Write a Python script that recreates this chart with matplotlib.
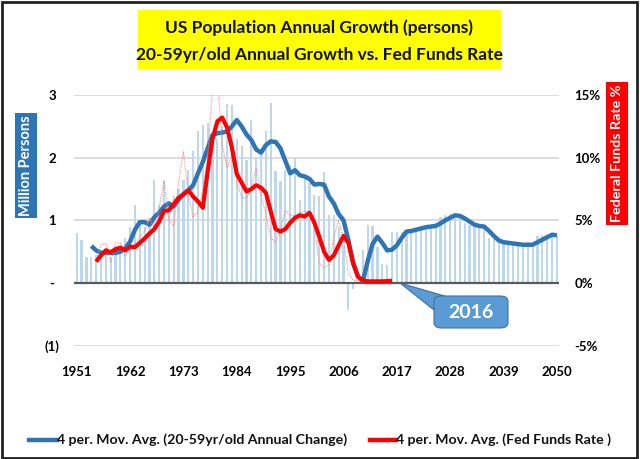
import matplotlib
matplotlib.use('Agg')
import matplotlib.pyplot as plt
import numpy as np
from matplotlib.patches import Rectangle, FancyBboxPatch, Polygon

# ---------------- data ----------------
years = list(range(1951, 2051))
pop_change = [
    0.80, 0.68, 0.41, 0.41, 0.45, 0.50, 0.55, 0.42, 0.50, 0.50,   # 1951-1960
    0.72, 0.90, 1.25, 0.95, 0.90, 1.00, 1.65, 1.25, 1.63, 1.30,   # 1961-1970
    1.38, 1.50, 1.65, 1.80, 2.10, 2.42, 2.52, 2.55, 2.35, 2.30,   # 1971-1980
    2.50, 2.86, 2.84, 2.30, 2.18, 1.96, 2.60, 2.00, 2.12, 2.42,   # 1981-1990
    2.87, 1.78, 1.62, 1.80, 1.88, 2.00, 1.33, 1.73, 1.60, 1.40,   # 1991-2000
    1.38, 1.77, 1.09, 1.09, 0.90, 0.60, -0.43, -0.10, 0.00, 0.53, # 2001-2010
    0.92, 0.91, 0.58, 0.31, 0.29, 0.82, 0.82, 0.82, 0.82, 0.84,   # 2011-2020
    0.86, 0.88, 0.90, 0.92, 0.94, 1.05, 1.08, 1.10, 1.10, 1.05,   # 2021-2030
    0.95, 0.92, 0.90, 0.90, 0.88, 0.72, 0.70, 0.66, 0.64, 0.63,   # 2031-2040
    0.62, 0.62, 0.61, 0.61, 0.62, 0.75, 0.76, 0.77, 0.77, 0.76,   # 2041-2050
]

pop_ma_years = list(range(1954, 2051))
pop_ma = [
    0.59, 0.52, 0.48, 0.48, 0.48, 0.48, 0.50,                     # 1954-1960
    0.55, 0.66, 0.85, 0.97, 0.97, 0.93, 1.05, 1.12, 1.22, 1.27,   # 1961-1970
    1.22, 1.33, 1.42, 1.48, 1.56, 1.75, 1.93, 2.15, 2.36, 2.39,   # 1971-1980
    2.40, 2.42, 2.50, 2.60, 2.50, 2.37, 2.28, 2.13, 2.08, 2.20,   # 1981-1990
    2.26, 2.25, 2.15, 1.95, 1.75, 1.80, 1.72, 1.70, 1.66, 1.57,   # 1991-2000
    1.58, 1.57, 1.38, 1.27, 1.10, 1.00, 0.69, 0.31, 0.10, 0.03,   # 2001-2010
    0.35, 0.62, 0.74, 0.64, 0.52, 0.53, 0.60, 0.72, 0.82, 0.83,   # 2011-2020
    0.85, 0.87, 0.89, 0.90, 0.91, 0.95, 1.00, 1.04, 1.08, 1.07,   # 2021-2030
    1.03, 0.98, 0.93, 0.91, 0.90, 0.83, 0.75, 0.68, 0.65, 0.64,   # 2031-2040
    0.63, 0.62, 0.61, 0.61, 0.61, 0.65, 0.69, 0.73, 0.77, 0.76,   # 2041-2050
]

ffr_years = list(range(1955, 2017))
ffr = [
    1.8, 3.0, 3.2, 1.6, 3.2, 3.2,                                  # 1955-1960
    2.1, 2.8, 3.2, 3.6, 4.2, 5.2, 4.3, 6.0, 8.2, 5.0,              # 1961-1970
    4.5, 8.0, 10.5, 7.0, 5.3, 5.7, 7.5, 10.0, 15.5, 16.5,          # 1971-1980
    11.0, 9.2, 10.2, 8.0, 6.8, 6.8, 7.5, 9.2, 7.0, 5.5,            # 1981-1990
    3.6, 3.2, 4.2, 5.8, 5.4, 5.4, 5.6, 5.7, 5.7, 4.5,              # 1991-2000
    1.6, 1.2, 1.5, 3.6, 5.0, 3.5, 0.8, 0.2, 0.15, 0.15,            # 2001-2010
    0.12, 0.12, 0.12, 0.12, 0.15, 0.2,                             # 2011-2016
]

ffr_ma_years = list(range(1955, 2017))
ffr_ma = [
    1.7, 2.2, 2.6, 2.45, 2.7, 2.82,                                # 1955-1960
    2.6, 2.9, 2.85, 3.2, 3.55, 3.95, 4.3, 4.9, 5.75, 5.8,          # 1961-1970
    6.3, 6.8, 7.05, 7.4, 6.9, 6.5, 6.0, 8.9, 11.5, 12.9,           # 1971-1980
    13.2, 12.4, 10.8, 8.7, 8.0, 7.3, 7.5, 7.8, 7.6, 7.2,           # 1981-1990
    5.7, 4.3, 4.1, 4.3, 4.8, 5.2, 5.4, 5.3, 5.6, 4.8,              # 1991-2000
    3.7, 2.5, 1.84, 2.2, 3.0, 3.75, 3.2, 1.6, 0.5, 0.2,            # 2001-2010
    0.13, 0.13, 0.13, 0.13, 0.15, 0.18,                            # 2011-2016
]

x_tick_years = [1951, 1962, 1973, 1984, 1995, 2006, 2017, 2028, 2039, 2050]
left_ticks = [-1, 0, 1, 2, 3]
left_labels = ['(1)', '-', '1', '2', '3']
right_ticks = [-5, 0, 5, 10, 15]
right_labels = ['-5%', '0%', '5%', '10%', '15%']

title_lines = ['US Population Annual Growth (persons)',
               '20-59yr/old Annual Growth vs. Fed Funds Rate']
legend_labels = ['4 per. Mov. Avg. (20-59yr/old Annual Change)',
                 '4 per. Mov. Avg. (Fed Funds Rate )']

# ---------------- style ----------------
FONT = 'Lato'
plt.rcParams['font.family'] = [FONT, 'DejaVu Sans']
BLUE = '#2E75B6'
RED = '#FF0000'
BAR = '#BDD7EE'

W, H = 640, 459
fig = plt.figure(figsize=(W / 100, H / 100), dpi=100)

def fx(px):
    return px / W

def fy(py):
    return 1 - py / H

# outer frame
fig.patches.append(Rectangle((fx(1.5), fy(457.5)), fx(637) - fx(1.5), fy(1.5) - fy(457.5),
                             transform=fig.transFigure, fill=False, edgecolor='#222222',
                             linewidth=2.0))

ax = fig.add_axes([fx(74.3), fy(345.6), fx(559.3) - fx(74.3), fy(95) - fy(345.6)])
ax2 = ax.twinx()

for a in (ax, ax2):
    for s in a.spines.values():
        s.set_visible(False)
    a.patch.set_visible(False)

ax.set_xlim(1950.5, 2050.5)
ax.set_ylim(-1, 3)
ax2.set_ylim(-5, 15)

# gridlines
for v in [-1, 1, 2, 3]:
    ax.axhline(v, color='#D9D9D9', linewidth=1.3, zorder=0)
ax.axhline(0, color='#595959', linewidth=1.6, zorder=3)

ax.bar(years, pop_change, width=0.45, color=BAR, zorder=1)
ax.plot(pop_ma_years, pop_ma, color=BLUE, linewidth=3.2, zorder=4,
        solid_capstyle='butt', solid_joinstyle='round')

ax2.plot(ffr_years, ffr, color='#FF8080', linewidth=0.8, linestyle=(0, (1, 1)), zorder=2,
         alpha=0.9)
ax2.plot(ffr_ma_years, ffr_ma, color=RED, linewidth=3.0, zorder=5,
         solid_capstyle='butt', solid_joinstyle='round')

ax.set_xticks(x_tick_years)
ax.set_xticklabels([str(y) for y in x_tick_years], fontsize=9.5, fontweight='bold')
ax.tick_params(axis='x', length=0, pad=15)
ax.set_yticks(left_ticks)
ax.set_yticklabels(left_labels, fontsize=9.5, fontweight='bold')
ax.tick_params(axis='y', length=0, pad=16)
for lab in ax.get_yticklabels():
    lab.set_horizontalalignment('center')
ax2.set_yticks(right_ticks)
ax2.set_yticklabels(right_labels, fontsize=9.5, fontweight='bold')
ax2.tick_params(axis='y', length=0, pad=11)

# title box
fig.patches.append(Rectangle((fx(137.5), fy(69)), fx(501) - fx(137.5), fy(10) - fy(69),
                             transform=fig.transFigure, facecolor='#FFFF00', edgecolor='none'))
fig.text(fx(319), fy(28), title_lines[0], ha='center', va='center', fontsize=12.5,
         fontweight='bold', color='#111111')
fig.text(fx(319), fy(55), title_lines[1], ha='center', va='center', fontsize=12.5,
         fontweight='bold', color='#111111')

# axis label boxes
fig.patches.append(Rectangle((fx(15), fy(218)), fx(37) - fx(15), fy(113) - fy(218),
                             transform=fig.transFigure, facecolor='#2E75B6', edgecolor='none'))
fig.text(fx(26), fy(165.5), 'Million Persons', rotation=90, ha='center', va='center',
         fontsize=10.5, fontweight='bold', color='white')
fig.patches.append(Rectangle((fx(606), fy(225)), fx(628) - fx(606), fy(82) - fy(225),
                             transform=fig.transFigure, facecolor='#FF0000', edgecolor='none'))
fig.text(fx(617), fy(153.5), 'Federal Funds Rate %', rotation=90, ha='center', va='center',
         fontsize=10.3, fontweight='bold', color='white')

# callout
CALL = '#5B9BD5'
fig.patches.append(Polygon([(fx(400), fy(283)), (fx(448), fy(297)), (fx(434), fy(310))],
                           closed=True, transform=fig.transFigure, facecolor=CALL,
                           edgecolor='#41719C', linewidth=0.8))
fig.patches.append(FancyBboxPatch((fx(434), fy(328)), fx(508) - fx(434), fy(296) - fy(328),
                                  boxstyle='round,pad=0,rounding_size=0.012',
                                  transform=fig.transFigure, facecolor=CALL,
                                  edgecolor='#41719C', linewidth=0.8))
fig.text(fx(471), fy(312), '2016', ha='center', va='center', fontsize=14,
         fontweight='bold', color='white')

# legend
fig.lines.append(plt.Line2D([fx(29), fx(57)], [fy(440), fy(440)], transform=fig.transFigure,
                            color=BLUE, linewidth=3.2))
fig.text(fx(57), fy(440), legend_labels[0], ha='left', va='center', fontsize=10.2,
         fontweight='bold', color='#111111')
fig.lines.append(plt.Line2D([fx(370), fx(396)], [fy(440), fy(440)], transform=fig.transFigure,
                            color=RED, linewidth=3.2))
fig.text(fx(396), fy(440), legend_labels[1], ha='left', va='center', fontsize=10.2,
         fontweight='bold', color='#111111')

fig.savefig('out.png', dpi=100)
